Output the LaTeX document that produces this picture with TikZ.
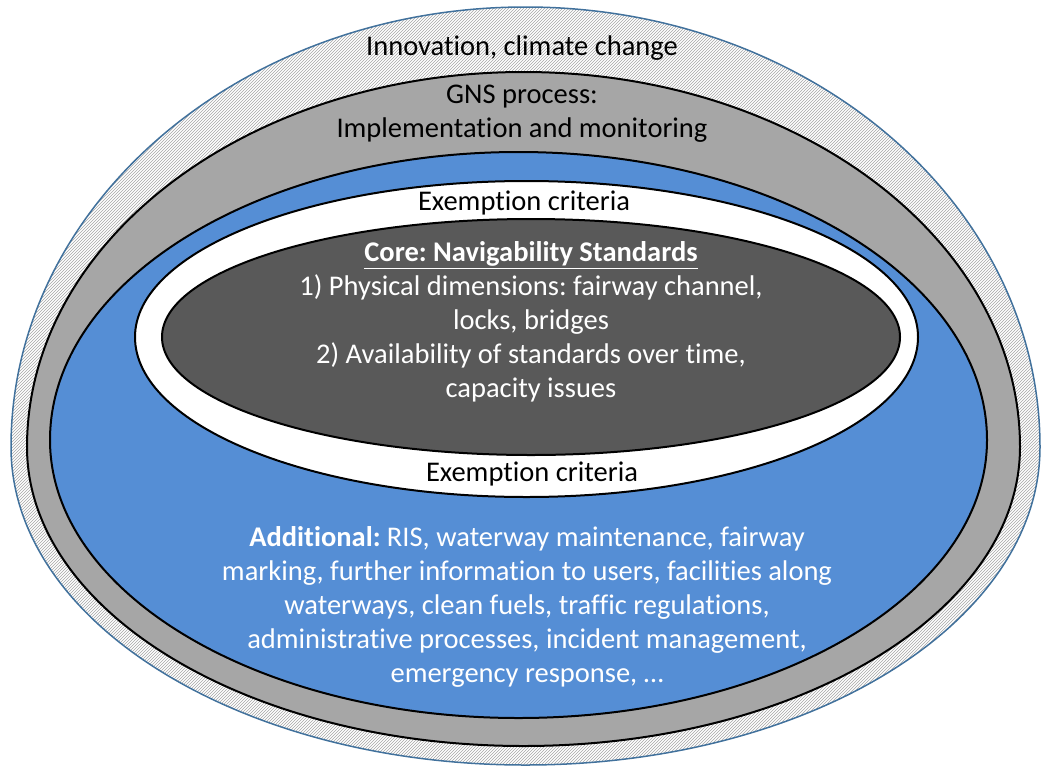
\documentclass[tikz,border=0pt]{standalone}
\usepackage{fontspec}
\setmainfont{Carlito}[Ligatures=NoCommon]
\usepackage{tikz}
\usetikzlibrary{patterns}
\frenchspacing

\definecolor{ringblue}{HTML}{558ED5}
\definecolor{ringgray}{HTML}{A6A6A6}
\definecolor{coregray}{HTML}{595959}
\definecolor{edgeblue}{HTML}{41719C}

% egg: centre x, widest y, x radius, upper y radius, lower y radius
\newcommand{\eggpath}[5]{({#1-#3},#2) arc[start angle=180, end angle=360, x radius=#3, y radius=#4]
  arc[start angle=0, end angle=180, x radius=#3, y radius=#5] -- cycle}

\tikzset{
  hatchring/.style={draw=edgeblue, line width=1.5pt, preaction={fill=white}, pattern=north east lines, pattern color=gray!70},
  grayring/.style={draw=black, line width=2pt, fill=ringgray},
  bluering/.style={draw=black, line width=2pt, fill=ringblue},
  whitering/.style={draw=black, line width=2pt, fill=white},
  corering/.style={draw=black, line width=2pt, fill=coregray},
  darktext/.style={text=black, align=center, font=\fontsize{28.5}{34}\selectfont},
  lighttext/.style={text=white, align=center, font=\fontsize{28.5}{34}\selectfont}
}

\begin{document}
\begin{tikzpicture}[x=1pt,y=-1pt]
            \useasboundingbox (0,0) rectangle (1041,766);

            \draw[hatchring] \eggpath{525.5}{447}{514.5}{440}{318};
            \draw[grayring] \eggpath{523.5}{447}{496.5}{375}{299};
            \draw[bluering] \eggpath{518.5}{440}{468.5}{288}{278};
            \draw[whitering] \eggpath{526.5}{337}{391.5}{156}{160};
            \draw[corering] (531,337) ellipse [x radius=369, y radius=118];

            \node[darktext] (innov) at (522,48) {Innovation, climate change};
            \node[darktext] (gns) at (522,114) {GNS process:\\Implementation and monitoring};
            \node[darktext] (exempttop) at (524,203) {Exemption criteria};
            \node[lighttext] (core) at (531,322) {\textbf{\underline{Core: Navigability Standards}}\\
              1) Physical dimensions: fairway channel,\\ locks, bridges\\
              2) Availability of standards over time,\\ capacity issues};
            \node[darktext] (exemptbot) at (532,474) {Exemption criteria};
            \node[lighttext] (additional) at (527,607) {\textbf{Additional:} RIS, waterway maintenance, fairway\\
              marking, further information to users, facilities along\\
              waterways, clean fuels, traffic regulations,\\
              administrative processes, incident management,\\
              emergency response, \dots};
        \end{tikzpicture}
\end{document}
